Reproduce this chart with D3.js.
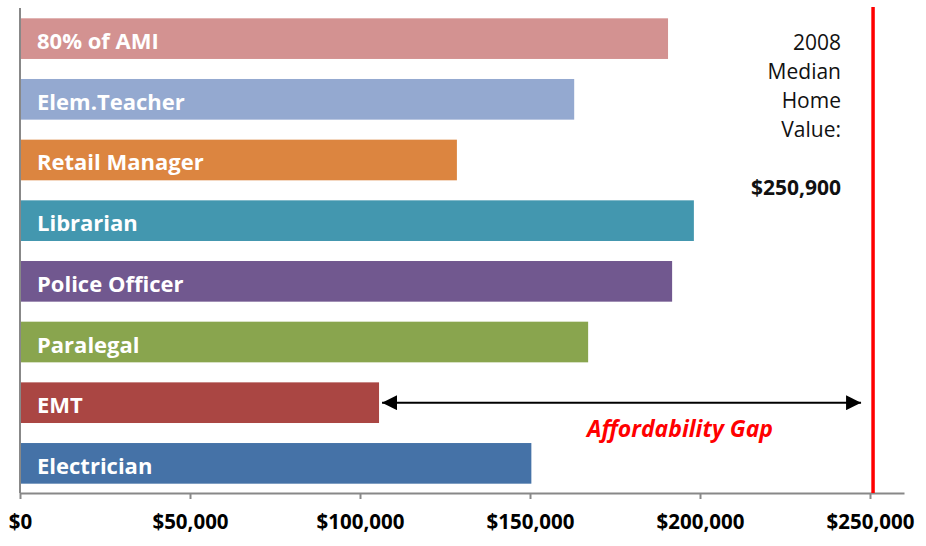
<!DOCTYPE html>
<html>
<head>
<meta charset="utf-8">
<script src="https://cdn.jsdelivr.net/npm/d3@7"></script>
<style>
  body { margin: 0; background: #fff; }
  svg { display: block; font-family: "Open Sans", sans-serif; }
</style>
</head>
<body>
<svg width="926" height="546"></svg>
<script>
(function(){
    // Chart data
    const jobs = ["80% of AMI", "Elem.Teacher", "Retail Manager", "Librarian",
                  "Police Officer", "Paralegal", "EMT", "Electrician"];
    const affordable = [190600, 163000, 128500, 198200, 191800, 167100, 105600, 150400];
    const barColors = ["#D39291", "#94A9D0", "#DC8540", "#4397AF",
                       "#71588F", "#89A54E", "#AA4643", "#4572A7"];
    const xTicks = [0, 50000, 100000, 150000, 200000, 250000];
    const medianHome = 250900;
    const noteLines = ["2008", "Median", "Home", "Value:"];

    const svg = d3.select("svg");

    // Scales
    const x = d3.scaleLinear().domain([0, 260000]).range([20, 904]);
    const y = d3.scaleBand()
        .domain(jobs)
        .range([8, 494])
        .paddingInner(0.33)
        .paddingOuter(0.17);
    const axisY = 493;

    // Bars
    const rows = jobs.map((name, i) => ({ name: name, value: affordable[i], color: barColors[i] }));

    svg.selectAll(".bar")
        .data(rows)
        .enter().append("rect")
        .attr("class", "bar")
        .attr("x", x(0))
        .attr("y", d => y(d.name))
        .attr("width", d => x(d.value) - x(0))
        .attr("height", y.bandwidth())
        .attr("fill", d => d.color);

    // Labels inside the bars
    svg.selectAll(".bar-label")
        .data(rows)
        .enter().append("text")
        .attr("class", "bar-label")
        .attr("x", x(0) + 17)
        .attr("y", d => y(d.name) + y.bandwidth() / 2 + 10.5)
        .attr("fill", "#fff")
        .style("font-size", "22px")
        .style("font-weight", "bold")
        .text(d => d.name);

    // X axis
    const xAxis = svg.append("g")
        .attr("transform", `translate(0,${axisY})`)
        .call(d3.axisBottom(x)
            .tickValues(xTicks)
            .tickSize(6)
            .tickSizeOuter(0)
            .tickFormat(d => "$" + d3.format(",")(d)));
    xAxis.select(".domain").attr("stroke", "#888").attr("stroke-width", 2);
    xAxis.selectAll(".tick line").attr("stroke", "#888").attr("stroke-width", 2);
    xAxis.selectAll(".tick text")
        .attr("y", 36)
        .attr("dy", 0)
        .attr("fill", "#000")
        .style("font-size", "20.5px")
        .style("font-weight", "bold")
        .style("font-family", "'Open Sans', sans-serif");

    // Y axis line
    svg.append("line")
        .attr("x1", x(0)).attr("x2", x(0))
        .attr("y1", 8).attr("y2", axisY)
        .attr("stroke", "#888")
        .attr("stroke-width", 2);

    // Median home value line
    svg.append("line")
        .attr("x1", x(medianHome)).attr("x2", x(medianHome))
        .attr("y1", 7).attr("y2", axisY)
        .attr("stroke", "#ff0000")
        .attr("stroke-width", 3.5);

    // Annotation text
    const note = svg.append("text")
        .attr("text-anchor", "end")
        .attr("fill", "#111")
        .style("font-size", "21px");
    noteLines.forEach((t, i) => {
        note.append("tspan")
            .attr("x", 841)
            .attr("y", 50 + i * 29)
            .text(t);
    });
    svg.append("text")
        .attr("x", 841)
        .attr("y", 195)
        .attr("text-anchor", "end")
        .attr("fill", "#111")
        .style("font-size", "21px")
        .style("font-weight", "bold")
        .text("$" + d3.format(",")(medianHome));

    // Affordability gap arrow
    svg.append("defs").append("marker")
        .attr("id", "head")
        .attr("viewBox", "0 0 10 10")
        .attr("refX", 10).attr("refY", 5)
        .attr("markerWidth", 7.5).attr("markerHeight", 7.5)
        .attr("markerUnits", "strokeWidth")
        .attr("orient", "auto-start-reverse")
        .append("path")
        .attr("d", "M0,0L10,5L0,10Z")
        .attr("fill", "#000");

    const emtY = y("EMT") + y.bandwidth() / 2;
    svg.append("line")
        .attr("x1", x(affordable[6]) + 3)
        .attr("x2", x(medianHome) - 12)
        .attr("y1", emtY).attr("y2", emtY)
        .attr("stroke", "#000")
        .attr("stroke-width", 2)
        .attr("marker-start", "url(#head)")
        .attr("marker-end", "url(#head)");

    svg.append("text")
        .attr("x", 680)
        .attr("y", 437)
        .attr("text-anchor", "middle")
        .attr("fill", "#ff0000")
        .style("font-size", "23px")
        .style("font-weight", "bold")
        .style("font-style", "italic")
        .text("Affordability Gap");
})();
</script>
</body>
</html>
